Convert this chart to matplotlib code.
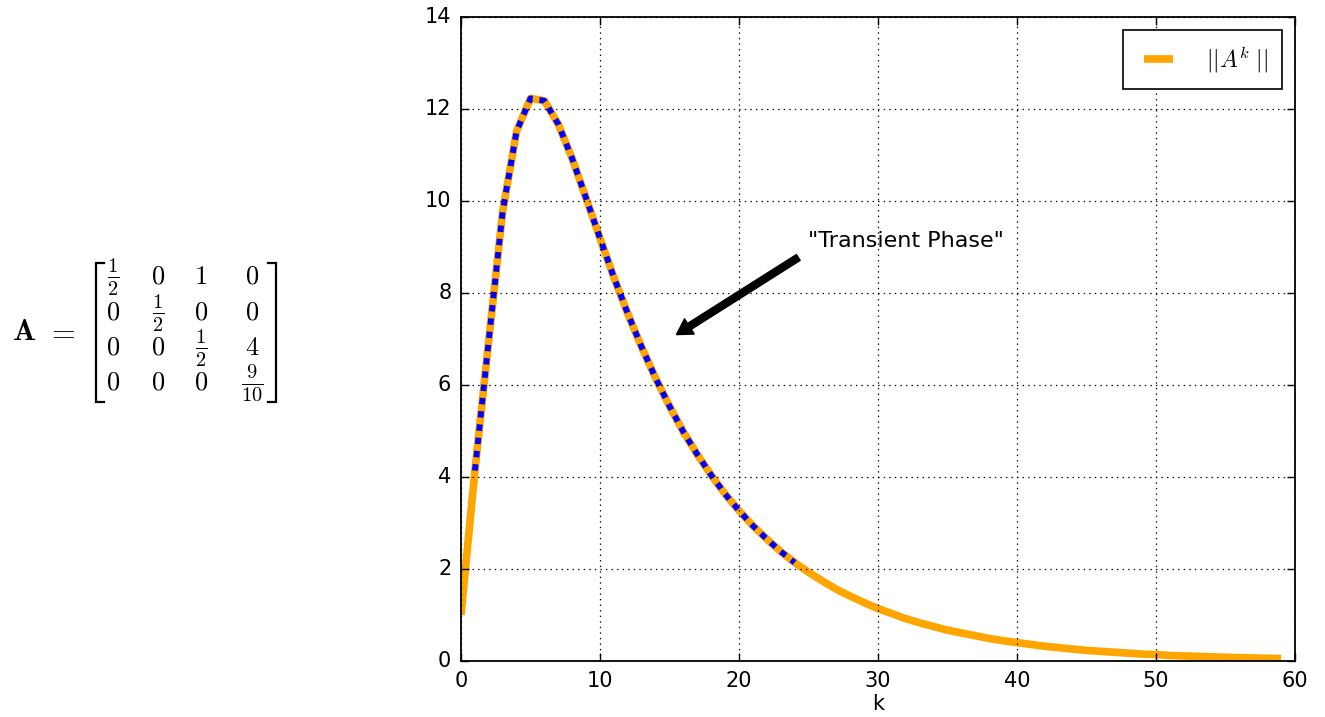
import matplotlib
matplotlib.use("Agg")
import matplotlib.pyplot as plt
from matplotlib.lines import Line2D

# ---- data ----
k_vals = list(range(60))
norm_vals = [1.0, 4.14, 6.98, 9.78, 11.52, 12.23, 12.18, 11.67, 10.92, 10.06,
             9.19, 8.34, 7.55, 6.82, 6.15, 5.54, 4.98, 4.49, 4.04, 3.63,
             3.27, 2.94, 2.65, 2.38, 2.14, 1.93, 1.74, 1.56, 1.41, 1.27,
             1.14, 1.03, 0.92, 0.83, 0.75, 0.67, 0.61, 0.55, 0.49, 0.44,
             0.40, 0.36, 0.32, 0.29, 0.26, 0.23, 0.21, 0.19, 0.17, 0.15,
             0.14, 0.12, 0.11, 0.10, 0.09, 0.08, 0.073, 0.066, 0.059, 0.053]
transient_k = k_vals[1:25]
transient_vals = norm_vals[1:25]
x_ticks = [0, 10, 20, 30, 40, 50, 60]
y_ticks = [0, 2, 4, 6, 8, 10, 12, 14]
legend_label = r'$||A^k\;||$'
annotation_text = '"Transient Phase"'
matrix_entries = [[r'$\frac{1}{2}$', '$0$', '$1$', '$0$'],
                  ['$0$', r'$\frac{1}{2}$', '$0$', '$0$'],
                  ['$0$', '$0$', r'$\frac{1}{2}$', '$4$'],
                  ['$0$', '$0$', '$0$', r'$\frac{9}{10}$']]

plt.style.use('classic')
plt.rcParams['mathtext.fontset'] = 'cm'
plt.rcParams['font.family'] = ['DejaVu Sans']
plt.rcParams['lines.scale_dashes'] = False

W, H = 1325, 717
fig = plt.figure(figsize=(W / 100, H / 100), dpi=100, facecolor='white')
ax = fig.add_axes([461 / W, 1 - 661 / H, (1295 - 461) / W, (661 - 17) / H])
ax.set_facecolor('white')

ax.plot(k_vals, norm_vals, color='orange', lw=5.5, label=legend_label,
        solid_capstyle='butt')
ax.plot(transient_k, transient_vals, color='blue', lw=4.2,
        linestyle=(0, (4.6, 5.0)), dash_capstyle='butt')

ax.set_xlim(0, 60)
ax.set_ylim(0, 14)
ax.set_xticks(x_ticks)
ax.set_yticks(y_ticks)
ax.tick_params(labelsize=15, direction='in', length=6, width=1, pad=7,
               top=True, right=True)
ax.grid(True, linestyle=':', color='k', linewidth=0.9)
for s in ax.spines.values():
    s.set_linewidth(1.3)
ax.set_xlabel('k', fontsize=15, labelpad=2)

ax.annotate(annotation_text, xy=(15, 7), xytext=(25, 9), fontsize=16,
            arrowprops=dict(facecolor='black', shrink=0.05, width=5,
                            headwidth=13, headlength=11))

leg = ax.legend(loc='upper right', fontsize=17, handlelength=1.8,
                handletextpad=1.1, borderaxespad=0.55, fancybox=False,
                numpoints=2, borderpad=0.6)
leg.get_frame().set_edgecolor('black')
leg.get_frame().set_linewidth(1.2)

# ---- matrix on the left ----
def fx(px):
    return px / W

def fy(py):
    return 1 - py / H

col_x = [113, 158, 201, 252]
row_y = [277, 313, 348, 383]
for r, row in enumerate(matrix_entries):
    for c, ent in enumerate(row):
        size = 21 if 'frac' in ent else 19
        fig.text(fx(col_x[c]), fy(row_y[r]), ent, ha='center', va='center',
                 fontsize=size)

fig.text(fx(24), fy(332), r'$\mathbf{A}$', ha='center', va='center', fontsize=22)
fig.text(fx(61), fy(332), r'$=$', ha='center', va='center', fontsize=22)

top, bot = 263, 402
for xv, xh in [(96, 104), (276, 268)]:
    fig.add_artist(Line2D([fx(xh), fx(xv), fx(xv), fx(xh)],
                          [fy(top), fy(top), fy(bot), fy(bot)],
                          transform=fig.transFigure, color='black', lw=1.6,
                          solid_joinstyle='miter'))

fig.savefig('out.png', dpi=100, facecolor='white')
